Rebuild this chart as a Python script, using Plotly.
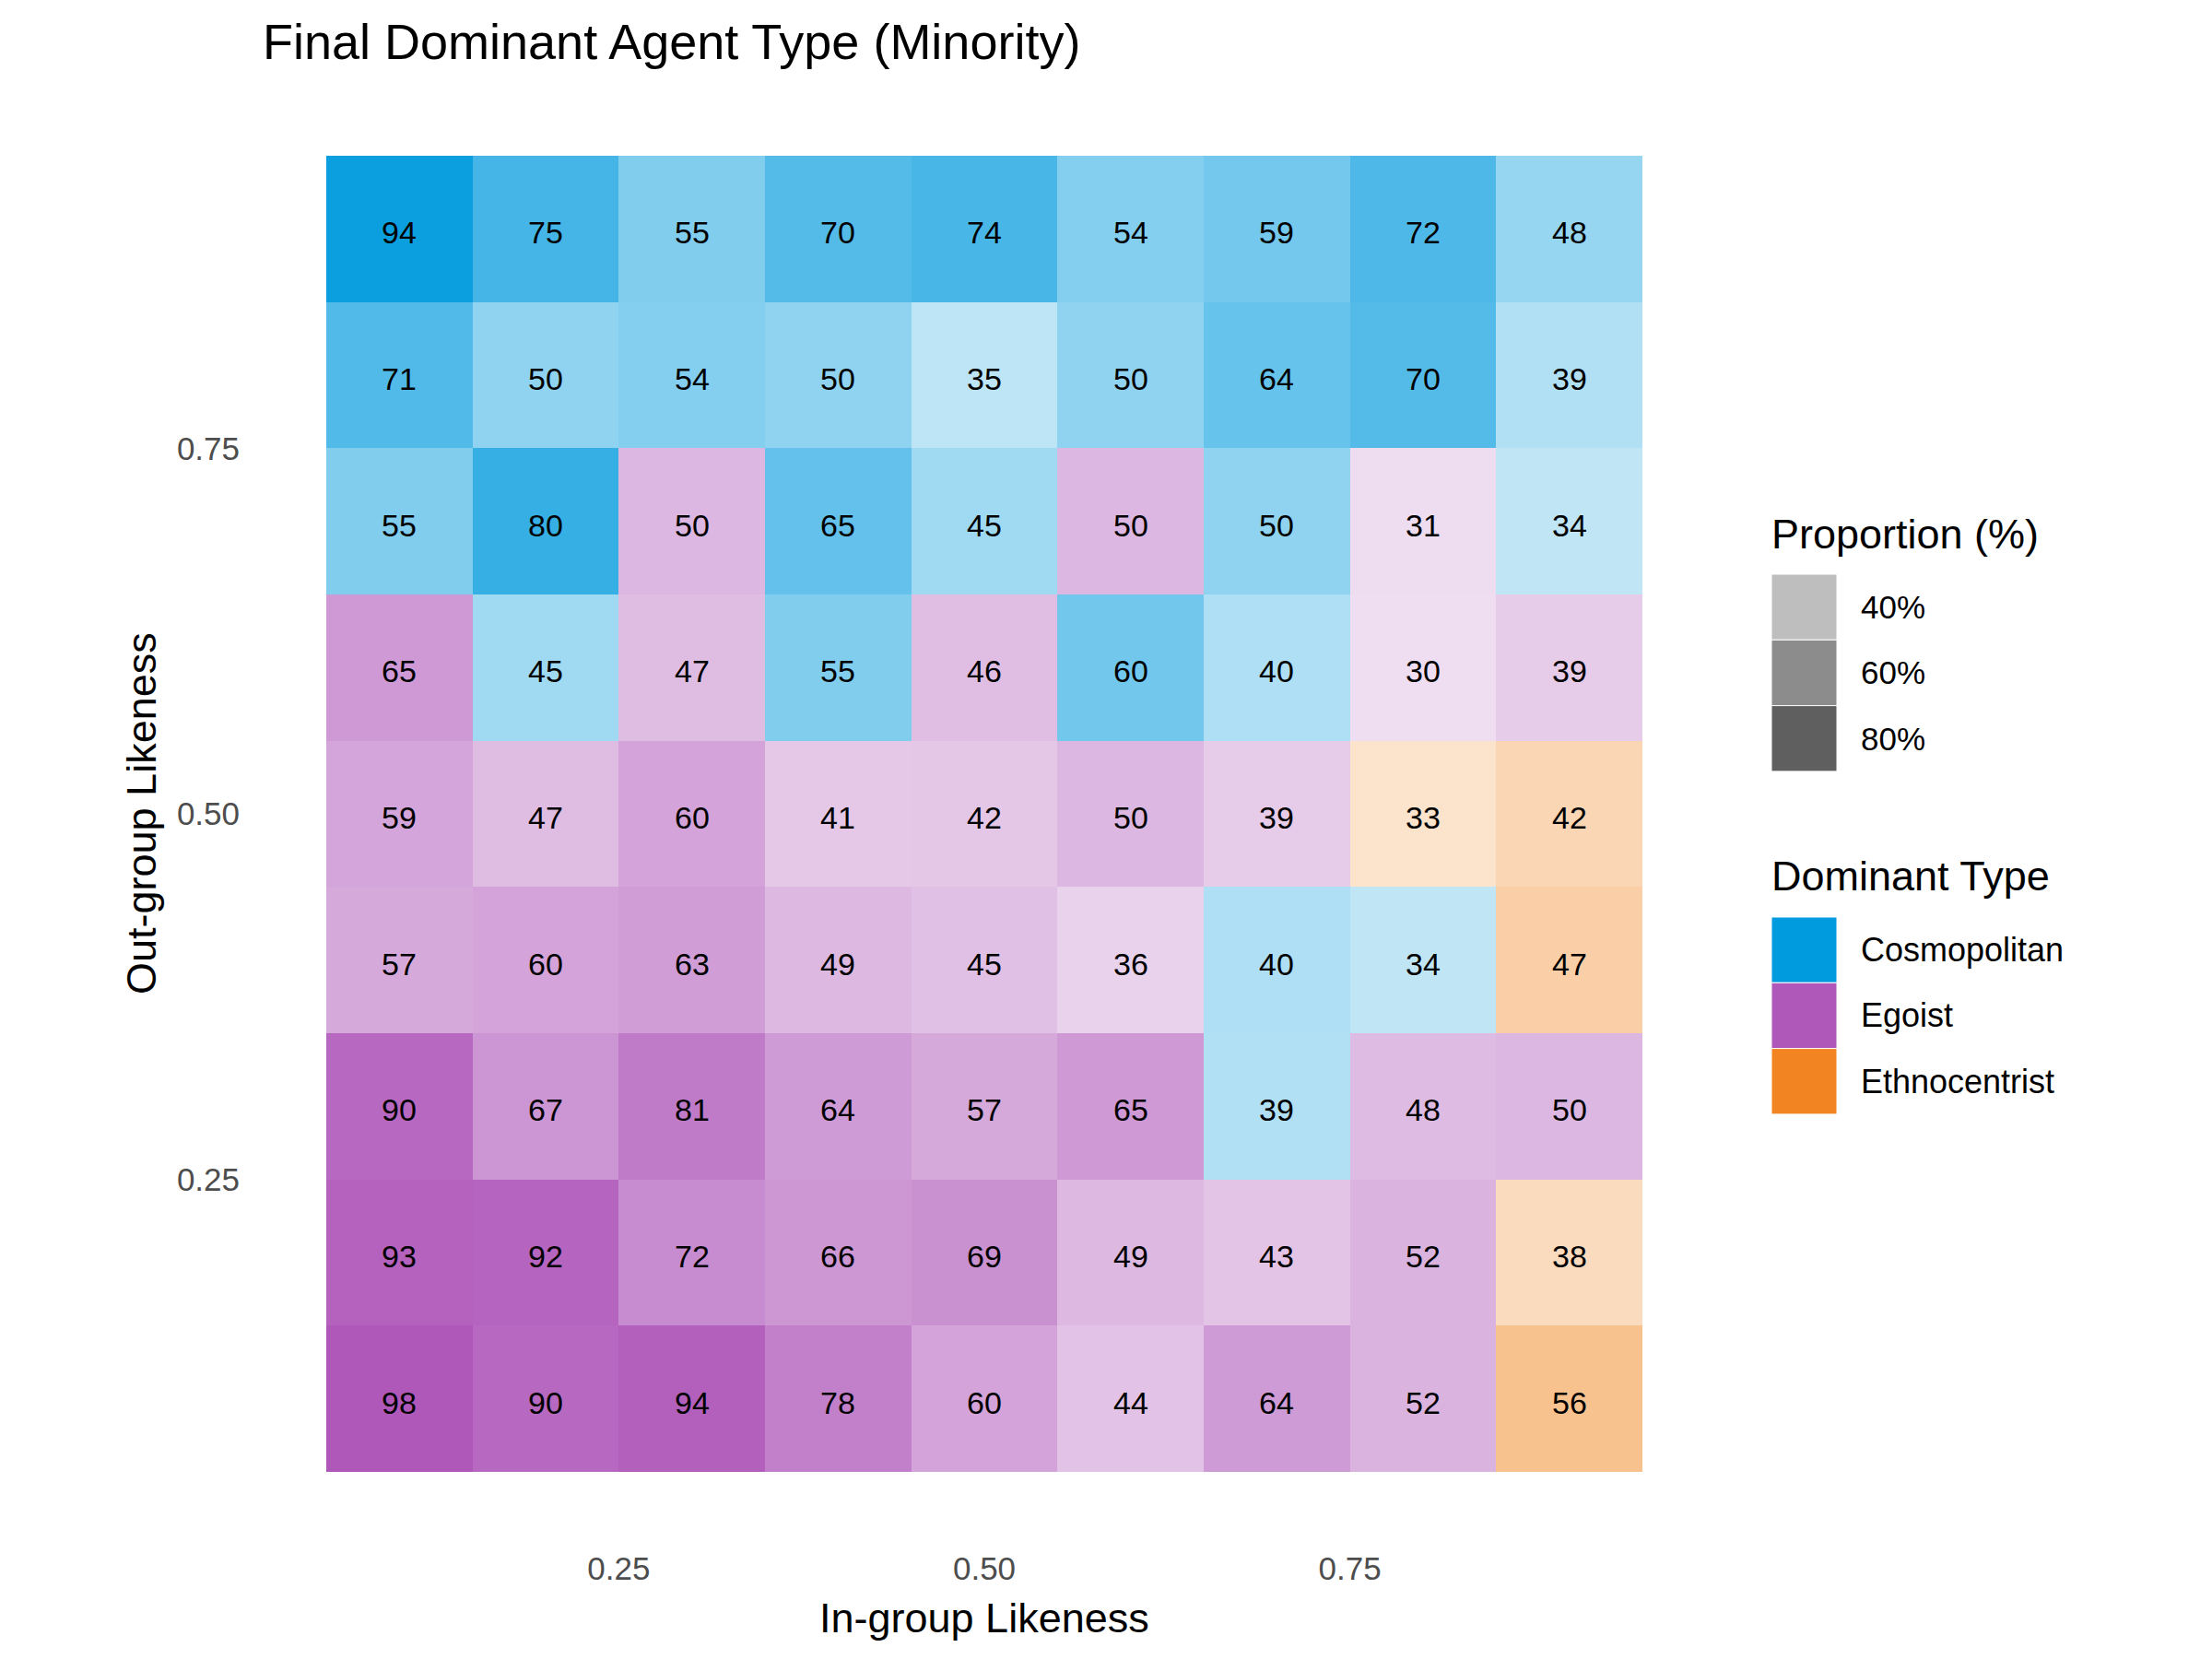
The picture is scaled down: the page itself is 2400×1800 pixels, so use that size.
import plotly.graph_objects as go

# ---- data ----
in_group = [0.1, 0.2, 0.3, 0.4, 0.5, 0.6, 0.7, 0.8, 0.9]
out_group = [0.9, 0.8, 0.7, 0.6, 0.5, 0.4, 0.3, 0.2, 0.1]  # rows top -> bottom

proportion = [
    [94, 75, 55, 70, 74, 54, 59, 72, 48],
    [71, 50, 54, 50, 35, 50, 64, 70, 39],
    [55, 80, 50, 65, 45, 50, 50, 31, 34],
    [65, 45, 47, 55, 46, 60, 40, 30, 39],
    [59, 47, 60, 41, 42, 50, 39, 33, 42],
    [57, 60, 63, 49, 45, 36, 40, 34, 47],
    [90, 67, 81, 64, 57, 65, 39, 48, 50],
    [93, 92, 72, 66, 69, 49, 43, 52, 38],
    [98, 90, 94, 78, 60, 44, 64, 52, 56],
]
dominant = [
    ["C", "C", "C", "C", "C", "C", "C", "C", "C"],
    ["C", "C", "C", "C", "C", "C", "C", "C", "C"],
    ["C", "C", "E", "C", "C", "E", "C", "E", "C"],
    ["E", "C", "E", "C", "E", "C", "C", "E", "E"],
    ["E", "E", "E", "E", "E", "E", "E", "T", "T"],
    ["E", "E", "E", "E", "E", "E", "C", "C", "T"],
    ["E", "E", "E", "E", "E", "E", "C", "E", "E"],
    ["E", "E", "E", "E", "E", "E", "E", "E", "T"],
    ["E", "E", "E", "E", "E", "E", "E", "E", "T"],
]
type_names = {"C": "Cosmopolitan", "E": "Egoist", "T": "Ethnocentrist"}
type_colors = {"C": (0, 154, 222), "E": (175, 88, 186), "T": (242, 133, 34)}
x_ticks = [0.25, 0.50, 0.75]
y_ticks = [0.25, 0.50, 0.75]
alpha_legend_values = [40, 60, 80]
alpha_legend_grays = ["#BEBEBE", "#8C8C8C", "#5F5F5F"]

ZMIN, ZMAX = 30, 98
A_MIN, A_MAX = 0.2, 1.0


def blend(rgb, a):
    r, g, b = (round(255 * (1 - a) + c * a) for c in rgb)
    return f"rgb({r},{g},{b})"


fig = go.Figure()
for key, rgb in type_colors.items():
    z = [[proportion[i][j] if dominant[i][j] == key else None for j in range(9)] for i in range(9)]
    fig.add_trace(go.Heatmap(
        x=in_group, y=out_group, z=z, zmin=ZMIN, zmax=ZMAX,
        colorscale=[[0, blend(rgb, A_MIN)], [1, blend(rgb, A_MAX)]],
        showscale=False, hoverongaps=False, xgap=0, ygap=0,
    ))

# ---- layout geometry (target screen pixels; page body adds an 8px offset) ----
OFF = 8
W, H = 2400, 1800
L, R, T, B = 354 - OFF, 1782 - OFF, 169 - OFF, 1597 - OFF
PW, PH = R - L, B - T


def px(xp):
    return (xp - OFF - L) / PW


def py(yp):
    return (B - (yp - OFF)) / PH


FONT = "Liberation Sans, Arial, Helvetica, sans-serif"
shapes, annotations = [], []

# cell labels (data coordinates)
for i, yv in enumerate(out_group):
    for j, xv in enumerate(in_group):
        annotations.append(dict(text=str(proportion[i][j]), x=xv, y=yv, xref="x", yref="y",
                                showarrow=False, xanchor="center", yanchor="middle", yshift=-4,
                                font=dict(size=34, color="black", family=FONT)))

# Proportion legend
annotations.append(dict(text="Proportion (%)", x=px(1920), y=py(579), xref="paper", yref="paper",
                        xanchor="left", yanchor="middle", showarrow=False,
                        font=dict(size=45, color="black", family=FONT)))
sw_top = 623
for k, (v, g) in enumerate(zip(alpha_legend_values, alpha_legend_grays)):
    y0 = sw_top + k * 71.3
    shapes.append(dict(type="rect", xref="paper", yref="paper", x0=px(1922), x1=px(1993),
                       y0=py(y0), y1=py(y0 + 71.3), fillcolor=g, line=dict(width=1, color="white")))
    annotations.append(dict(text=f"{v}%", x=px(2017), y=py(y0 + 35.6), xref="paper", yref="paper",
                            xanchor="left", yanchor="middle", showarrow=False,
                            font=dict(size=35, color="black", family=FONT)))

# Dominant type legend
annotations.append(dict(text="Dominant Type", x=px(1920), y=py(950), xref="paper", yref="paper",
                        xanchor="left", yanchor="middle", showarrow=False,
                        font=dict(size=45, color="black", family=FONT)))
sw_top = 995
for k, key in enumerate(["C", "E", "T"]):
    y0 = sw_top + k * 71.3
    shapes.append(dict(type="rect", xref="paper", yref="paper", x0=px(1922), x1=px(1993),
                       y0=py(y0), y1=py(y0 + 71.3), fillcolor=blend(type_colors[key], 1.0),
                       line=dict(width=1, color="white")))
    annotations.append(dict(text=type_names[key], x=px(2017), y=py(y0 + 35.6), xref="paper", yref="paper",
                            xanchor="left", yanchor="middle", showarrow=False,
                            font=dict(size=36, color="black", family=FONT)))

# axis titles
annotations.append(dict(text="In-group Likeness", x=px(1068), y=py(1755), xref="paper", yref="paper",
                        xanchor="center", yanchor="middle", showarrow=False,
                        font=dict(size=45, color="black", family=FONT)))
annotations.append(dict(text="Out-group Likeness", x=px(153), y=py(883), xref="paper", yref="paper",
                        xanchor="center", yanchor="middle", showarrow=False, textangle=-90,
                        font=dict(size=45, color="black", family=FONT)))

fig.update_layout(
    width=W, height=H,
    margin=dict(l=L, r=W - R, t=T, b=H - B, autoexpand=False),
    paper_bgcolor="white", plot_bgcolor="white",
    font=dict(family=FONT),
    title=dict(text="Final Dominant Agent Type (Minority)", xref="container", yref="container",
               x=(285 - OFF) / W, y=1 - (45 - OFF) / H, xanchor="left", yanchor="middle",
               font=dict(size=54, color="black", family=FONT)),
    showlegend=False,
    shapes=shapes, annotations=annotations,
)
fig.update_xaxes(range=[0.05, 0.95], tickvals=x_ticks, ticktext=[f"{t:.2f}" for t in x_ticks],
                 showgrid=False, zeroline=False, showline=False, ticks="",
                 ticklabelstandoff=81, tickfont=dict(size=35, color="#4D4D4D", family=FONT))
fig.update_yaxes(range=[0.05, 0.95], tickvals=y_ticks, ticktext=[f"{t:.2f}" for t in y_ticks],
                 showgrid=False, zeroline=False, showline=False, ticks="",
                 ticklabelstandoff=93, tickfont=dict(size=35, color="#4D4D4D", family=FONT))

fig.write_html("out.html")
